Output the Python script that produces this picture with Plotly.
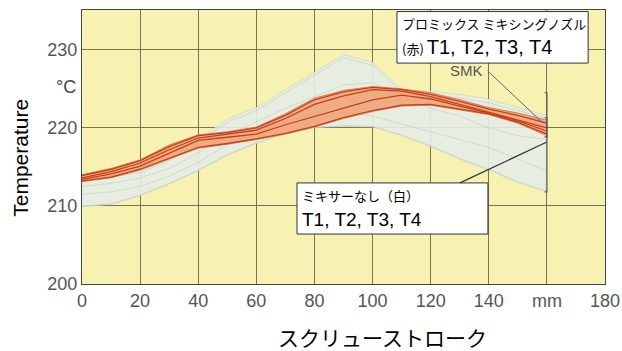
import plotly.graph_objects as go

# ---------------- data ----------------
stroke_mm = [0, 10, 20, 30, 40, 50, 60, 70, 80, 90, 100, 110, 120, 130, 140, 150, 160]

# Promix mixing nozzle (red) band and lines T1..T4
red_upper = [214.0, 214.8, 215.9, 217.8, 219.1, 219.5, 220.1, 221.8, 223.8, 224.8, 225.3, 225.0, 224.5, 223.6, 222.6, 221.9, 221.0]
red_lower = [213.1, 213.6, 214.6, 216.0, 217.4, 217.9, 218.5, 219.2, 220.1, 221.2, 222.1, 222.8, 222.9, 222.3, 221.7, 220.6, 219.0]
red_T1 = [213.9, 214.7, 215.8, 217.6, 219.0, 219.4, 220.0, 221.6, 223.6, 224.6, 225.2, 224.9, 224.3, 223.4, 222.4, 221.6, 220.6]
red_T2 = [213.6, 214.4, 215.5, 217.2, 218.7, 219.2, 219.7, 221.2, 223.0, 224.1, 224.9, 224.7, 224.0, 223.0, 222.0, 221.0, 220.0]
red_T3 = [213.4, 214.1, 215.1, 216.8, 218.4, 218.8, 219.2, 220.4, 221.5, 222.6, 223.6, 224.2, 223.7, 222.8, 221.9, 220.9, 219.6]
red_T4 = [213.2, 213.7, 214.7, 216.1, 217.5, 218.0, 218.6, 219.3, 220.2, 221.3, 222.2, 222.9, 223.0, 222.4, 221.8, 220.7, 219.2]

# No mixer (white) band and lines T1..T4
white_upper = [213.6, 213.9, 214.6, 216.2, 218.6, 221.1, 222.6, 224.9, 227.1, 229.4, 228.4, 224.9, 224.7, 224.3, 223.7, 222.6, 221.6]
white_lower = [209.9, 210.2, 211.3, 212.8, 214.5, 216.5, 218.0, 219.2, 220.0, 220.2, 220.1, 219.0, 217.6, 216.0, 214.6, 213.0, 211.8]
white_T1 = [213.4, 213.7, 214.3, 215.8, 218.2, 220.7, 222.2, 224.5, 226.7, 229.0, 228.0, 224.6, 224.3, 223.8, 223.2, 222.2, 221.3]
white_T2 = [212.5, 212.9, 213.6, 214.8, 216.8, 219.0, 220.8, 222.5, 224.0, 225.5, 225.8, 224.0, 222.5, 221.5, 220.0, 219.0, 218.5]
white_T3 = [211.5, 211.8, 212.5, 213.8, 215.6, 217.8, 219.5, 220.8, 221.6, 222.0, 221.5, 220.5, 219.5, 218.5, 217.5, 216.0, 214.5]
white_T4 = [210.0, 210.3, 211.4, 212.9, 214.6, 216.6, 218.1, 219.3, 220.1, 220.3, 220.2, 219.1, 217.7, 216.1, 214.7, 213.1, 211.9]

x_tickvals = [0, 20, 40, 60, 80, 100, 120, 140, 160, 180]
x_ticktext = ["0", "20", "40", "60", "80", "100", "120", "140", "mm", "180"]
y_tickvals = [200, 210, 220, 230]

label_red_1 = "プロミックス ミキシングノズル"
label_red_2 = "(赤)"
label_white_1 = "ミキサーなし（白）"
label_series = "T1, T2, T3, T4"

# ---------------- figure ----------------
JP = "Noto Sans CJK JP"
LAT = "Liberation Sans"
fig = go.Figure()

# white band
fig.add_trace(go.Scatter(x=stroke_mm, y=white_upper, mode="lines", line=dict(width=0.8, color="rgba(185,202,192,0.6)"),
                         showlegend=False, hoverinfo="skip"))
fig.add_trace(go.Scatter(x=stroke_mm, y=white_lower, mode="lines", line=dict(width=0.8, color="rgba(185,202,192,0.6)"),
                         fill="tonexty", fillcolor="rgba(228,237,229,0.9)", showlegend=False, hoverinfo="skip"))
for w in [white_T1, white_T2, white_T3, white_T4]:
    fig.add_trace(go.Scatter(x=stroke_mm, y=w, mode="lines", line=dict(width=1, color="rgba(170,190,178,0.4)"),
                             showlegend=False, hoverinfo="skip"))

# red band
fig.add_trace(go.Scatter(x=stroke_mm, y=red_upper, mode="lines", line=dict(width=1, color="#e07a4a"),
                         showlegend=False, hoverinfo="skip"))
fig.add_trace(go.Scatter(x=stroke_mm, y=red_lower, mode="lines", line=dict(width=1, color="#e58a5a"),
                         fill="tonexty", fillcolor="rgba(240,160,115,0.85)", showlegend=False, hoverinfo="skip"))
for r in [red_T1, red_T2, red_T3, red_T4]:
    fig.add_trace(go.Scatter(x=stroke_mm, y=r, mode="lines", line=dict(width=1.3, color="#c4401c"),
                             showlegend=False, hoverinfo="skip"))

shapes = []
# annotation boxes
shapes.append(dict(type="rect", xref="x", yref="y", x0=108.4, x1=174.2, y0=228.3, y1=234.9,
                   fillcolor="white", line=dict(color="#333", width=1), layer="above"))
shapes.append(dict(type="rect", xref="x", yref="y", x0=74.0, x1=139.7, y0=206.4, y1=212.95,
                   fillcolor="white", line=dict(color="#333", width=1), layer="above"))
# SMK leader line
shapes.append(dict(type="line", xref="x", yref="y", x0=139.6, y0=227.3, x1=158.7, y1=220.6,
                   line=dict(color="#666", width=1)))
# small bracket
shapes.append(dict(type="path", xref="x", yref="y",
                   path="M 159.2 221.3 L 160 221.3 L 160 218.85 L 159.2 218.85",
                   line=dict(color="#555", width=1.2)))
# large bracket
shapes.append(dict(type="path", xref="x", yref="y",
                   path="M 159.2 224.5 L 160 224.5 L 160 211.8 L 159.2 211.8",
                   line=dict(color="#555", width=1.2)))
# leader from white box
shapes.append(dict(type="line", xref="x", yref="y", x0=130.1, y0=212.95, x1=160, y1=218.2,
                   line=dict(color="#333", width=1.2)))

annotations = [
    dict(x=109.5, y=233.4, xref="x", yref="y", text=label_red_1, showarrow=False, xanchor="left",
         font=dict(family=JP, size=13, color="black")),
    dict(x=109.5, y=230.3, xref="x", yref="y",
         text=label_red_2 + " <span style='font-family:" + LAT + ";font-size:20px'>" + label_series + "</span>",
         showarrow=False, xanchor="left", font=dict(family=JP, size=13, color="black")),
    dict(x=75.0, y=211.3, xref="x", yref="y", text=label_white_1, showarrow=False, xanchor="left",
         font=dict(family=JP, size=13, color="black")),
    dict(x=75.0, y=208.2, xref="x", yref="y", text=label_series, showarrow=False, xanchor="left",
         font=dict(family=LAT, size=19, color="black")),
    dict(x=132.5, y=227.4, xref="x", yref="y", text="SMK", showarrow=False,
         font=dict(family=LAT, size=15, color="#555")),
    dict(x=0, y=225.3, xref="paper", yref="y", xanchor="right", xshift=-4, text="°C", showarrow=False,
         font=dict(family=LAT, size=18, color="#444")),
    dict(x=-0.117, y=0.46, xref="paper", yref="paper", xanchor="center", yanchor="middle",
         text="Temperature", textangle=-90, showarrow=False,
         font=dict(family=LAT, size=21, color="black")),
    dict(x=0.575, y=-0.193, xref="paper", yref="paper", xanchor="center", yanchor="middle",
         text="スクリューストローク", showarrow=False,
         font=dict(family=JP, size=21, color="black")),
]

fig.update_layout(
    width=622, height=351,
    margin=dict(l=82, r=17, t=10, b=67, autoexpand=False),
    paper_bgcolor="white",
    plot_bgcolor="#f7f2b2",
    shapes=shapes,
    annotations=annotations,
    showlegend=False,
    xaxis=dict(range=[0, 180], tickvals=x_tickvals, ticktext=x_ticktext, showgrid=True, automargin=False,
               gridcolor="#77745a", gridwidth=1, showline=True, linecolor="#444", linewidth=1.2,
               mirror=True, zeroline=False, ticks="", tickfont=dict(family=LAT, size=18, color="#555")),
    yaxis=dict(range=[200, 235.1], tickvals=y_tickvals, showgrid=True, automargin=False,
               gridcolor="#77745a", gridwidth=1, showline=True, linecolor="#444", linewidth=1.2,
               mirror=True, zeroline=False, ticks="", tickfont=dict(family=LAT, size=18, color="#555")),
)

fig.write_html("out.html", config={"displayModeBar": False},
               post_script="document.body.style.margin='0';document.body.style.overflow='hidden';")
